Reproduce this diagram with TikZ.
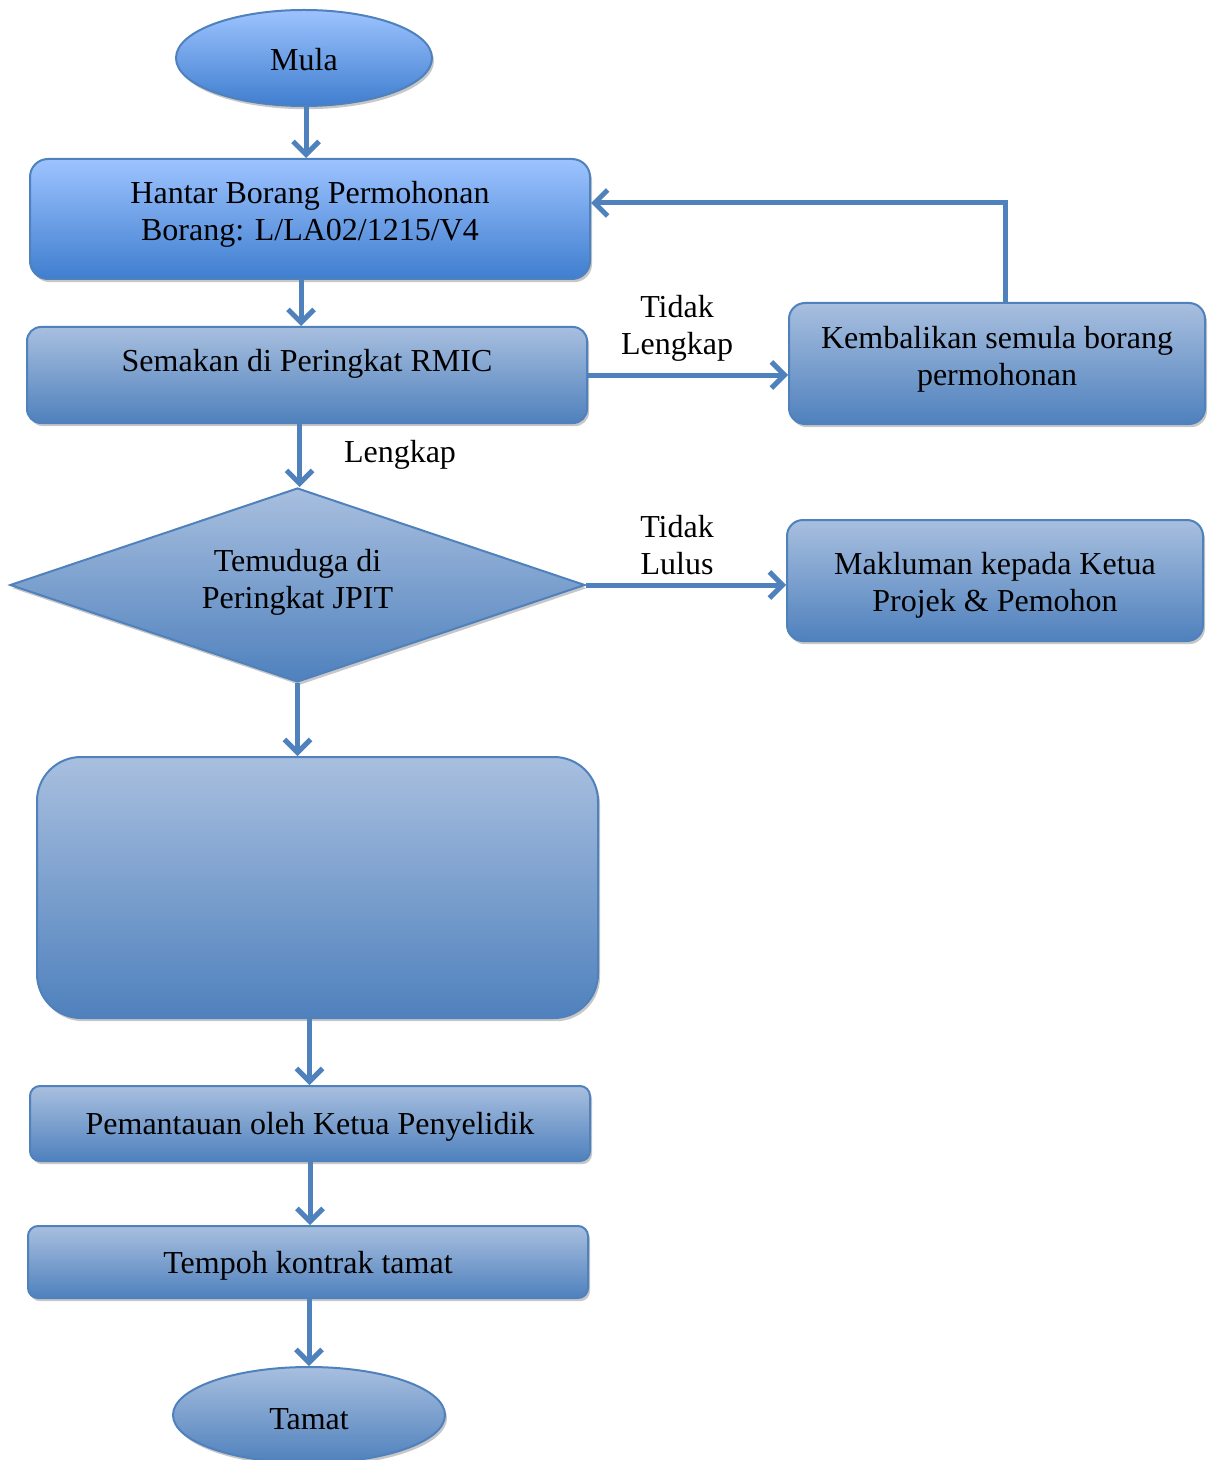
\documentclass[tikz,border=0pt]{standalone}
\usepackage{fontspec}
\setmainfont{Liberation Serif}
\usetikzlibrary{shapes.geometric,arrows.meta,shadows}
\definecolor{bord}{HTML}{4F81BD}
\definecolor{brtop}{HTML}{9DC3FF}
\definecolor{brbot}{HTML}{3F7ECF}
\definecolor{mutop}{HTML}{A8BFDF}
\definecolor{mubot}{HTML}{4F81BD}
\tikzset{
  x=0.5pt, y=-0.5pt,
  every node/.style={font=\fontsize{16}{18.5}\selectfont, align=center, inner sep=0pt},
  shad/.style={drop shadow={shadow xshift=1pt, shadow yshift=-1.6pt, fill=black!22, opacity=1}},
  bright/.style={draw=bord, line width=1pt, top color=brtop, bottom color=brbot, shad},
  muted/.style={draw=bord, line width=1pt, top color=mutop, bottom color=mubot, shad},
  arr/.style={draw=bord, line width=2.5pt, -{Straight Barb[length=6.5pt, width=13pt, line width=2.5pt]}},
  lbl/.style={font=\fontsize{16}{18.5}\selectfont}
}
\begin{document}
\begin{tikzpicture}
\useasboundingbox (0,0) rectangle (1212,1460);
% nodes
\node[bright, ellipse, minimum width=128pt, minimum height=48pt] (mula) at (304,58) {};
\node at (304,60) {Mula};
\node[bright, rectangle, rounded corners=9pt, minimum width=280pt, minimum height=60pt] (hantar) at (310,219) {};
\node at (310,214) {Hantar Borang Permohonan\\Borang: L/LA02/1215/V4};
\node[muted, rectangle, rounded corners=7pt, minimum width=280pt, minimum height=48pt] (semak) at (307,375) {};
\node at (307,364) {Semakan di Peringkat RMIC};
\node[muted, rectangle, rounded corners=8pt, minimum width=208pt, minimum height=60.5pt] (kemb) at (997,363.5) {};
\node at (997,359) {Kembalikan semula borang\\permohonan};
\node[muted, diamond, minimum width=287.5pt, minimum height=97pt] (temu) at (297.5,585) {};
\node at (297.5,582) {Temuduga di\\Peringkat JPIT};
\node[muted, rectangle, rounded corners=8pt, minimum width=208pt, minimum height=60.5pt] (mak) at (995,580.5) {};
\node at (995,585) {Makluman kepada Ketua\\Projek \& Pemohon};
\node[muted, rectangle, rounded corners=22pt, minimum width=280.5pt, minimum height=130.5pt] (big) at (317.5,887.5) {};
\node[muted, rectangle, rounded corners=5pt, minimum width=280pt, minimum height=37.5pt] (pant) at (310,1123.5) {};
\node at (310,1127) {Pemantauan oleh Ketua Penyelidik};
\node[muted, rectangle, rounded corners=5pt, minimum width=280pt, minimum height=36pt] (tempoh) at (308,1262) {};
\node at (308,1266) {Tempoh kontrak tamat};
\node[muted, ellipse, minimum width=136pt, minimum height=48pt] (tamat) at (309,1415) {};
\node at (309,1419) {Tamat};
% labels
\node[lbl] (llengkap) at (400,455) {Lengkap};
\node[lbl] (ltl) at (677,328) {Tidak\\Lengkap};
\node[lbl] (ltlu) at (677,545) {Tidak\\Lulus};
% connectors
\draw[arr] ([xshift=1pt]mula.south) -- ([xshift=1pt]mula.south |- hantar.north);
\draw[arr] ([xshift=-4.5pt]hantar.south) -- ([xshift=-4.5pt]hantar.south |- semak.north);
\draw[arr] ([xshift=1pt]temu.north |- semak.south) -- ([xshift=1pt]temu.north);
\draw[arr] (temu.south) -- (temu.south |- big.north);
\draw[arr] ([xshift=-4pt]big.south) -- ([xshift=-4pt]big.south |- pant.north);
\draw[arr] (pant.south) -- (pant.south |- tempoh.north);
\draw[arr] ([xshift=0.5pt]tempoh.south) -- ([xshift=0.5pt]tempoh.south |- tamat.north);
\draw[arr] (semak.east) -- (kemb.west |- semak.east);
\draw[arr] (temu.east) -- (mak.west |- temu.east);
\draw[arr] ([xshift=4pt]kemb.north) |- ([yshift=8pt]hantar.east);
\end{tikzpicture}
\end{document}
